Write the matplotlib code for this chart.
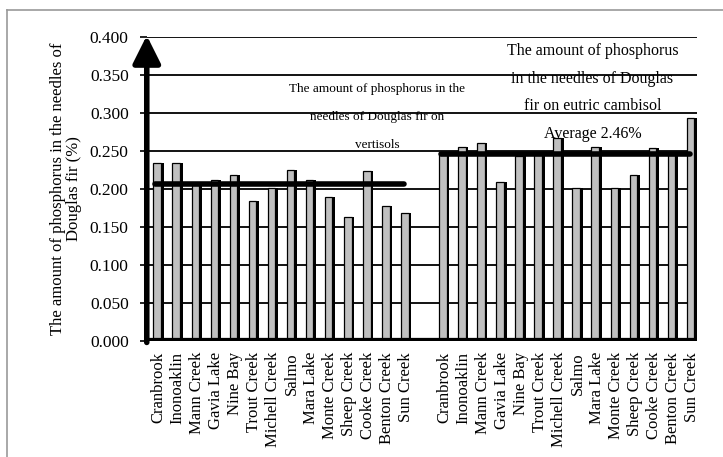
import numpy as np
import matplotlib.pyplot as plt
from matplotlib.lines import Line2D

sites = ['Cranbrook', 'Inonoaklin', 'Mann Creek', 'Gavia Lake', 'Nine Bay',
         'Trout Creek', 'Michell Creek', 'Salmo', 'Mara Lake', 'Monte Creek',
         'Sheep Creek', 'Cooke Creek', 'Benton Creek', 'Sun Creek']
vertisol = [0.234, 0.234, 0.205, 0.212, 0.218, 0.184, 0.201, 0.225,
            0.212, 0.190, 0.163, 0.223, 0.178, 0.168]
cambisol = [0.245, 0.255, 0.261, 0.209, 0.243, 0.245, 0.267, 0.201,
            0.255, 0.201, 0.218, 0.254, 0.245, 0.294]
avg_vertisol = 0.207
avg_cambisol = 0.246
yticks = np.arange(0, 0.4001, 0.05)

plt.rcParams['font.family'] = ['Liberation Serif', 'DejaVu Serif']

n = len(sites)
x1 = np.arange(n)
x2 = np.arange(n) + n + 1
xs = np.concatenate([x1, x2])
vals = vertisol + cambisol
labels = sites + sites

fig = plt.figure(figsize=(7.23, 4.57), dpi=100)
ax = fig.add_axes([0.203, 0.254, 0.761, 0.665])

# black shadow on the right side of each bar, then grey face
ax.bar(xs + 0.15, vals, width=0.22, color='black', zorder=3)
ax.bar(xs - 0.08, vals, width=0.4, color='#c0c0c0', edgecolor='black',
       linewidth=0.9, zorder=4)

ax.set_ylim(0, 0.4)
ax.set_xlim(-0.63, xs[-1] + 0.26)
ax.set_yticks(yticks)
ax.set_yticklabels(['%.3f' % v for v in yticks], fontsize=12.5)
ax.set_xticks(xs)
ax.set_xticklabels(labels, rotation=90, fontsize=12)
ax.tick_params(axis='x', length=0, pad=8)
ax.tick_params(axis='y', length=5, width=1.2, pad=8, direction='out')
ax.yaxis.grid(True, color='black', linewidth=1.3, zorder=1)
ax.set_axisbelow(True)
for s in ax.spines.values():
    s.set_visible(False)

# baseline and arrow axis
ax.axhline(0, color='black', linewidth=4.5, zorder=6)
ax.annotate('', xy=(0, 1.005), xytext=(0, -0.005), xycoords='axes fraction',
            arrowprops=dict(arrowstyle='-|>', lw=4, color='black',
                            mutation_scale=42, shrinkA=0, shrinkB=0),
            zorder=7, annotation_clip=False)

# average lines
ax.plot([x1[0] - 0.2, x1[-1] - 0.12], [avg_vertisol, avg_vertisol],
        color='black', linewidth=4, solid_capstyle='round', zorder=5)
ax.plot([x2[0] - 0.18, x2[-1] - 0.1], [avg_cambisol, avg_cambisol],
        color='black', linewidth=4, solid_capstyle='round', zorder=5)

ax.text(11.46, 0.295, 'The amount of phosphorus in the\nneedles of Douglas fir on\nvertisols',
        ha='center', va='center', fontsize=9.5, linespacing=2.75, zorder=8)
ax.text(22.77, 0.327, 'The amount of phosphorus\nin the needles of Douglas\nfir on eutric cambisol\nAverage 2.46%',
        ha='center', va='center', fontsize=11.5, linespacing=1.95, zorder=8)

ax.set_ylabel('The amount of phosphorus in the needles of\nDouglas fir (%)',
              fontsize=12, labelpad=6, linespacing=1.0)

# figure border (left and top visible)
fig.add_artist(Line2D([0.01, 0.01], [0.0, 0.978], color='#999999', lw=1.2))
fig.add_artist(Line2D([0.01, 1.0], [0.978, 0.978], color='#999999', lw=1.2))

plt.savefig('out.png', dpi=100)
